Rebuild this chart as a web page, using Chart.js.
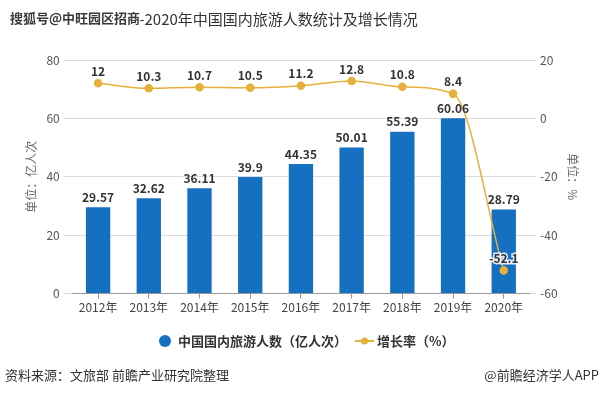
<!DOCTYPE html>
<html>
<head>
<meta charset="utf-8">
<script src="https://cdn.jsdelivr.net/npm/chart.js@4.4.1/dist/chart.umd.min.js"></script>
<style>
	html, body { margin: 0; padding: 0; background: #fff; }
	#wrap { width: 603px; height: 395px; position: relative; }
</style>
</head>
<body>
<div id="wrap"><canvas id="chart" width="603" height="395"></canvas></div>
<script>
const years = ['2012年', '2013年', '2014年', '2015年', '2016年', '2017年', '2018年', '2019年', '2020年'];
const tourists = [29.57, 32.62, 36.11, 39.9, 44.35, 50.01, 55.39, 60.06, 28.79];
const growth = [12, 10.3, 10.7, 10.5, 11.2, 12.8, 10.8, 8.4, -52.1];
const leftTicks = [0, 20, 40, 60, 80];
const rightTicks = [-60, -40, -20, 0, 20];

const FONT = '"Noto Sans CJK SC", "Noto Sans", sans-serif';
const BLUE = '#1670c2';
const GOLD = '#e6b03a';

// labels, header, legend and footer
const decor = {
	id: 'decor',
	afterDatasetsDraw(chart) {
		let ctx = chart.ctx;
		ctx.save();
		ctx.textAlign = 'center';
		ctx.textBaseline = 'bottom';
		ctx.font = 'bold 12px ' + FONT;
		ctx.fillStyle = '#333';
		chart.getDatasetMeta(0).data.forEach(function(bar, i) {
			ctx.fillText(String(tourists[i]), bar.x, bar.y - 4);
		});
		chart.getDatasetMeta(1).data.forEach(function(pt, i) {
			ctx.lineWidth = 3;
			ctx.strokeStyle = 'rgba(255,255,255,0.85)';
			ctx.strokeText(String(growth[i]), pt.x, pt.y - 6);
			ctx.fillText(String(growth[i]), pt.x, pt.y - 6);
		});
		ctx.restore();
	},
	afterDraw(chart) {
		let ctx = chart.ctx;
		ctx.save();
		ctx.textBaseline = 'middle';

		ctx.textAlign = 'left';
		ctx.font = '15px ' + FONT;
		ctx.fillStyle = '#333';
		ctx.fillText('2012-2020年中国国内旅游人数统计及增长情况', 106, 19);

		ctx.font = 'bold 13px ' + FONT;
		ctx.lineWidth = 3;
		ctx.strokeStyle = '#fff';
		ctx.strokeText('搜狐号@中旺园区招商', 10, 18);
		ctx.fillStyle = '#3a3a3a';
		ctx.fillText('搜狐号@中旺园区招商', 10, 18);

		// legend
		let ly = 341;
		ctx.fillStyle = BLUE;
		ctx.beginPath();
		ctx.arc(165, ly, 6, 0, Math.PI * 2);
		ctx.fill();
		ctx.font = 'bold 13px ' + FONT;
		ctx.fillStyle = '#333';
		ctx.fillText('中国国内旅游人数（亿人次）', 178, ly);
		ctx.strokeStyle = GOLD;
		ctx.lineWidth = 2;
		ctx.beginPath();
		ctx.moveTo(355, ly);
		ctx.lineTo(374, ly);
		ctx.stroke();
		ctx.fillStyle = GOLD;
		ctx.beginPath();
		ctx.arc(364.5, ly, 3.5, 0, Math.PI * 2);
		ctx.fill();
		ctx.fillStyle = '#333';
		ctx.fillText('增长率（%）', 377, ly);

		// footer
		ctx.font = '13px ' + FONT;
		ctx.fillStyle = '#333';
		ctx.fillText('资料来源：文旅部 前瞻产业研究院整理', 5, 375);
		ctx.textAlign = 'right';
		ctx.fillText('@前瞻经济学人APP', 599, 375);
		ctx.restore();
	}
};

new Chart(document.getElementById('chart').getContext('2d'), {
	data: {
		labels: years,
		datasets: [
			{
				type: 'bar',
				label: '中国国内旅游人数（亿人次）',
				data: tourists,
				backgroundColor: BLUE,
				barPercentage: 0.48,
				categoryPercentage: 1,
				yAxisID: 'y',
				order: 2,
			},
			{
				type: 'line',
				label: '增长率（%）',
				data: growth,
				borderColor: GOLD,
				borderWidth: 1.5,
				backgroundColor: GOLD,
				pointBackgroundColor: GOLD,
				pointBorderColor: GOLD,
				pointRadius: 3.5,
				tension: 0.4,
				cubicInterpolationMode: 'monotone',
				yAxisID: 'y1',
				order: 1,
			},
		],
	},
	options: {
		responsive: false,
		animation: false,
		layout: { padding: { top: 60, left: 20, right: 19, bottom: 78 } },
		plugins: {
			legend: { display: false },
			tooltip: { enabled: false },
		},
		scales: {
			x: {
				offset: true,
				grid: { offset: false, drawOnChartArea: false, tickLength: 5, color: '#999' },
				border: { color: '#999' },
				ticks: { color: '#444', font: { family: FONT, size: 12 }, padding: 2, maxRotation: 0 },
			},
			y: {
				position: 'left',
				min: 0,
				max: 80,
				afterBuildTicks: function(scale) { scale.ticks = leftTicks.map(v => ({ value: v })); },
				grid: { color: '#dcdcdc', tickLength: 9 },
				border: { display: false },
				ticks: { color: '#555', font: { family: FONT, size: 12 }, padding: 4 },
				title: { display: true, text: '单位：亿人次', color: '#666', font: { family: FONT, size: 12 }, padding: 4 },
			},
			y1: {
				position: 'right',
				min: -60,
				max: 20,
				afterBuildTicks: function(scale) { scale.ticks = rightTicks.map(v => ({ value: v })); },
				grid: { drawOnChartArea: false, color: '#dcdcdc', tickLength: 7 },
				border: { display: false },
				ticks: { color: '#555', font: { family: FONT, size: 12 }, padding: 4 },
				title: { display: true, text: '单位：%', color: '#666', font: { family: FONT, size: 12 }, padding: 4 },
			},
		},
	},
	plugins: [decor],
});
</script>
</body>
</html>
